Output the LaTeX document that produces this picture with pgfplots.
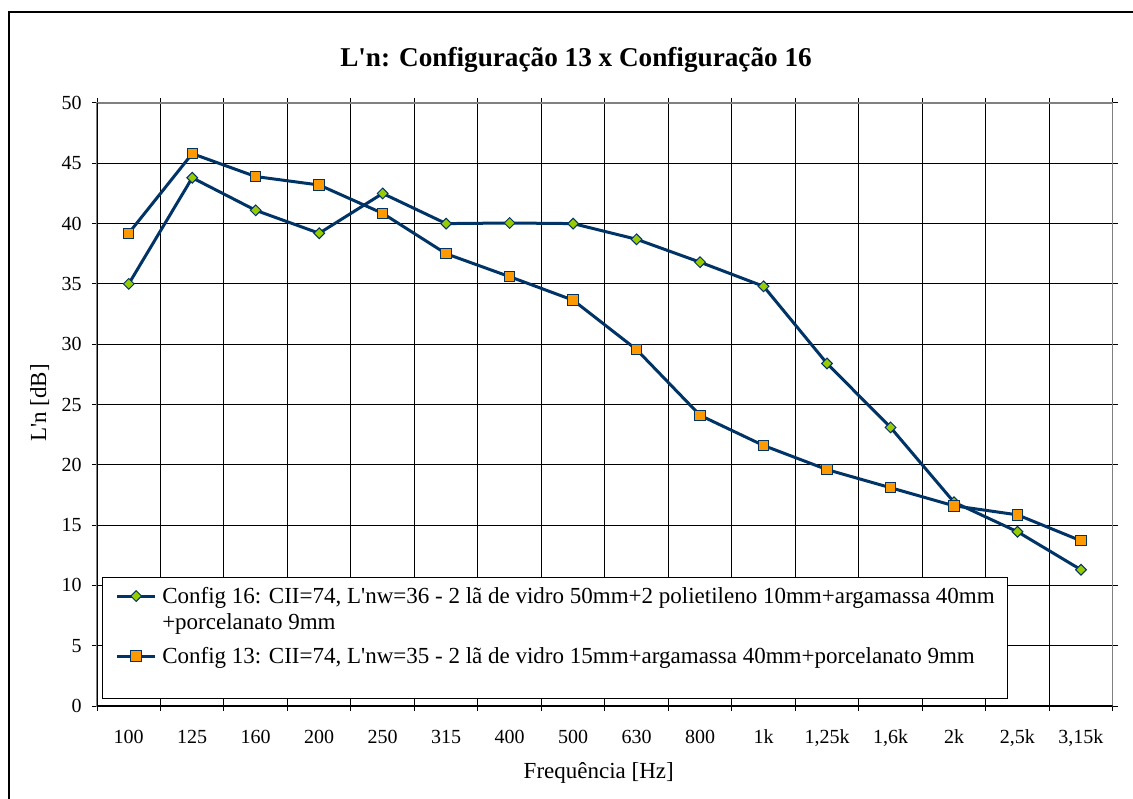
\documentclass[border=0pt]{standalone}
\usepackage{pgfplots}
\pgfplotsset{compat=1.18}
\usepackage{fontspec}
\setmainfont{Liberation Serif}
\definecolor{navy}{RGB}{0,51,102}
\definecolor{lgreen}{RGB}{153,204,0}
\definecolor{orng}{RGB}{255,153,0}
\newcommand\q{\textquotesingle}
\begin{document}
\begin{tikzpicture}
\path[use as bounding box] (0,0) rectangle (566.5pt,399pt);
\draw[line width=0.8pt] (4.5pt,-1pt) -- (4.5pt,393pt) -- (567.5pt,393pt);
\node[font=\fontsize{13.6}{16}\selectfont\bfseries, anchor=base] at (288pt,365.6pt) {L\q n: Configuração 13 x Configuração 16};
\begin{axis}[
 at={(48.5pt,46pt)}, anchor=south west,
 scale only axis, width=507.85pt, height=301.5pt,
 xmin=-0.5, xmax=15.5, ymin=0, ymax=50,
 xtick={0,...,15},
 xticklabels={100,125,160,200,250,315,400,500,630,800,1k,{1,25k},{1,6k},2k,{2,5k},{3,15k}},
 minor xtick={-0.5,0.5,...,15.5},
 ytick={0,5,...,50},
 tick align=outside,
 major tick length=2.5pt, minor tick length=2.5pt,
 major x tick style={draw=none},
 tick style={black, line width=0.5pt},
 ymajorgrids, xminorgrids,
 major grid style={black, line width=0.5pt},
 minor grid style={black, line width=0.5pt},
 axis line style={draw=black!50, line width=0.6pt},
 /pgf/number format/assume math mode=true,
 ticklabel style={font=\fontsize{10}{12}\selectfont},
 xticklabel style={anchor=base, yshift=-16.4pt},
 yticklabel style={anchor=east, inner sep=0pt, xshift=-5pt},
 xlabel={Frequência [Hz]},
 xlabel style={at={(axis description cs:0.494,-0.111)}, anchor=center, font=\fontsize{11.5}{14}\selectfont},
 ylabel={L\q n [dB]},
 ylabel style={at={(axis description cs:-0.0564,0.5025)}, anchor=center, font=\fontsize{11.5}{14}\selectfont},
 legend style={at={(axis description cs:0.0049,0.2139)}, anchor=north west, draw=black, line width=0.5pt, fill=white, inner xsep=6.6pt, inner ysep=3.75pt, row sep=1.65pt, column sep=2.8pt, nodes={inner sep=0pt, text depth=}, cells={anchor=base west}, font=\fontsize{11.5}{13.35}\selectfont},
 legend image code/.code={\draw[mark repeat=2,mark phase=2,#1] plot coordinates {(0pt,3.5pt)(9.5pt,3.5pt)(19pt,3.5pt)};},
]
\addplot[navy, line width=1.5pt, mark=square*, mark size=1.9pt, mark options={rotate=45, fill=lgreen, draw=navy, line width=0.5pt}] coordinates {
(0,35.0)(1,43.8)(2,41.1)(3,39.2)(4,42.5)(5,40.0)(6,40.05)(7,40.0)(8,38.7)(9,36.8)(10,34.8)(11,28.4)(12,23.1)(13,16.9)(14,14.45)(15,11.3)};
\addlegendentry{\rule[-2.7pt]{0pt}{11.7pt}Config 16: CII=74, L\q nw=36 - 2 lã de vidro 50mm+2 polietileno 10mm+argamassa 40mm}
\addlegendimage{empty legend}
\addlegendentry{\rule[-6pt]{0pt}{15pt}+porcelanato 9mm}
\addplot[navy, line width=1.5pt, mark=square*, mark size=2.6pt, mark options={fill=orng, draw=navy, line width=0.5pt}] coordinates {
(0,39.2)(1,45.8)(2,43.9)(3,43.2)(4,40.85)(5,37.5)(6,35.6)(7,33.65)(8,29.55)(9,24.1)(10,21.6)(11,19.6)(12,18.1)(13,16.6)(14,15.85)(15,13.7)};
\addlegendentry{\rule[-14pt]{0pt}{23pt}Config 13: CII=74, L\q nw=35 - 2 lã de vidro 15mm+argamassa 40mm+porcelanato 9mm}
\draw[black, line width=1pt] (rel axis cs:0,0) -- (rel axis cs:1,0);
\draw[black, line width=0.6pt] (rel axis cs:0,0) -- (rel axis cs:0,1);
\end{axis}
\end{tikzpicture}
\end{document}
